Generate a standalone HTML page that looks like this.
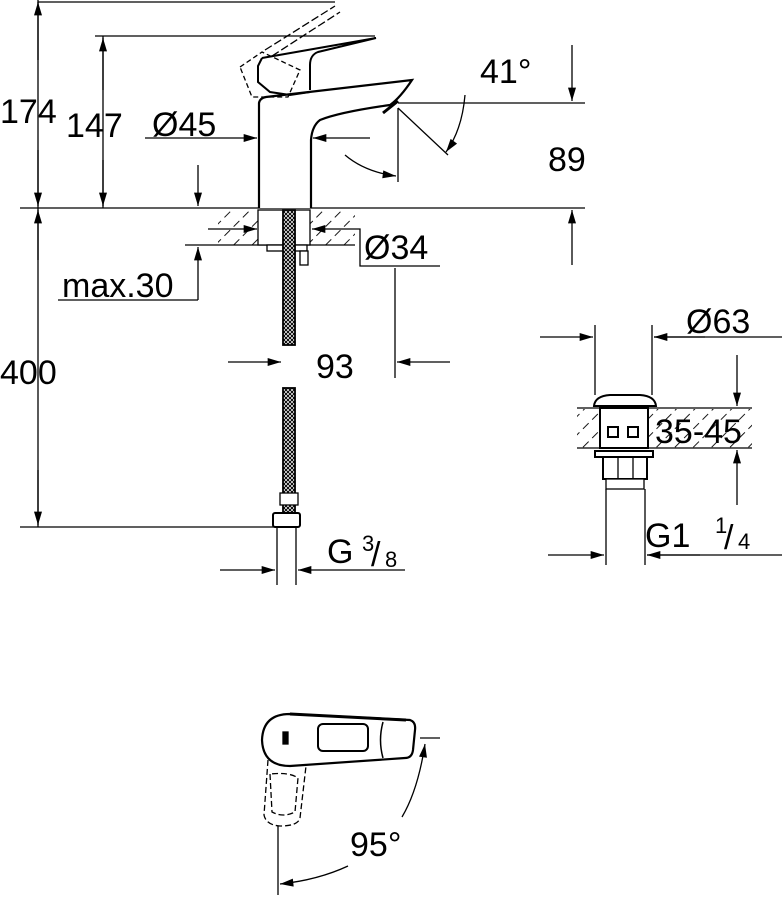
<!DOCTYPE html>
<html><head><meta charset="utf-8"><style>
html,body{margin:0;padding:0;background:#fff}
svg{display:block}
text{font-family:"Liberation Sans",Arial,sans-serif;fill:#000}
</style></head><body>
<svg width="784" height="904" viewBox="0 0 784 904" xmlns="http://www.w3.org/2000/svg">
<defs>
<marker id="a" viewBox="0 0 10 6" refX="10" refY="3" markerWidth="17" markerHeight="8" markerUnits="userSpaceOnUse" orient="auto"><path d="M0,0L10,3L0,6z" fill="#000"/></marker>
<pattern id="h" width="13" height="13" patternUnits="userSpaceOnUse" patternTransform="rotate(45)"><line x1="0" y1="0" x2="0" y2="13" stroke="#000" stroke-width="1.8" stroke-dasharray="8,5"/></pattern>
<pattern id="b" width="4" height="4" patternUnits="userSpaceOnUse"><rect width="4" height="4" fill="#fff"/><path d="M0,0L4,4M4,0L0,4" stroke="#000" stroke-width="1"/></pattern>
</defs>
<g stroke="#000" stroke-width="1.3" fill="none">
<line x1="38" y1="0" x2="38" y2="527"/>
<line x1="38" y1="60" x2="38" y2="2" marker-end="url(#a)"/>
<line x1="38" y1="150" x2="38" y2="206" marker-end="url(#a)"/>
<line x1="38" y1="260" x2="38" y2="210" marker-end="url(#a)"/>
<line x1="38" y1="470" x2="38" y2="525" marker-end="url(#a)"/>
<line x1="38" y1="2" x2="335" y2="2"/>
<line x1="103" y1="36" x2="103" y2="208"/>
<line x1="103" y1="90" x2="103" y2="38" marker-end="url(#a)"/>
<line x1="103" y1="160" x2="103" y2="206" marker-end="url(#a)"/>
<line x1="95" y1="36" x2="375" y2="36"/>
<line x1="20" y1="208" x2="585" y2="208"/>
<line x1="20" y1="527" x2="280" y2="527"/>
<rect x="218" y="210" width="137" height="35" fill="url(#h)" stroke="none"/>
<line x1="185" y1="245" x2="355" y2="245"/>
<rect x="258" y="210" width="52" height="35" fill="#fff"/>
<rect x="267" y="245" width="40" height="6" fill="#fff"/>
<rect x="300" y="251" width="8" height="14" fill="#fff"/>
<rect x="283" y="210" width="12" height="135" fill="url(#b)" stroke-width="1.8"/>
<rect x="283" y="388" width="12" height="125" fill="url(#b)" stroke-width="1.8"/>
<rect x="280" y="493" width="18" height="12" fill="#fff"/>
<rect x="273" y="513" width="27" height="14" rx="2" fill="#fff" stroke-width="2"/>
<line x1="277" y1="527" x2="277" y2="585"/>
<line x1="296" y1="527" x2="296" y2="585"/>
<line x1="220" y1="570" x2="275" y2="570" marker-end="url(#a)"/>
<line x1="405" y1="570" x2="298" y2="570" marker-end="url(#a)"/>
<path d="M259,208 L259,103 Q260,98 266,97 L412,80 Q400,98 390,105 Q340,112 320,120 Q312,126 311,140 L311,208" stroke-width="2.2" fill="#fff"/>
<path d="M262,58 L376,38 L318,52 Q310,55 310,65 L310,90" stroke-width="2"/>
<path d="M262,58 L258,66 L258,82 L270,92 L290,95 L310,92" stroke-width="2"/>
<path d="M240,67 L262,52 L300,70 L288,97 L252,97 Z" stroke-dasharray="5,3"/>
<path d="M265,50 L335,6 M272,56 L340,12" stroke-dasharray="8,3"/>
<path d="M383,113 L398,101" stroke-width="3"/>
<line x1="145" y1="138" x2="257" y2="138" marker-end="url(#a)"/>
<line x1="370" y1="138" x2="313" y2="138" marker-end="url(#a)"/>
<line x1="198" y1="165" x2="198" y2="206" marker-end="url(#a)"/>
<line x1="198" y1="300" x2="198" y2="247" marker-end="url(#a)"/>
<line x1="58" y1="300" x2="198" y2="300"/>
<line x1="208" y1="229" x2="257" y2="229" marker-end="url(#a)"/>
<line x1="335" y1="229" x2="312" y2="229" marker-end="url(#a)"/>
<polyline points="335,229 360,229 360,266 440,266"/>
<line x1="395" y1="268" x2="395" y2="378"/>
<line x1="228" y1="362" x2="281" y2="362" marker-end="url(#a)"/>
<line x1="450" y1="362" x2="397" y2="362" marker-end="url(#a)"/>
<line x1="398" y1="108" x2="398" y2="182"/>
<line x1="398" y1="108" x2="448" y2="155"/>
<line x1="398" y1="103" x2="585" y2="103"/>
<path d="M465,95 Q462,130 446,152" marker-end="url(#a)"/>
<path d="M345,155 Q365,172 396,176" marker-end="url(#a)"/>
<line x1="572" y1="45" x2="572" y2="101" marker-end="url(#a)"/>
<line x1="572" y1="265" x2="572" y2="210" marker-end="url(#a)"/>
<line x1="595" y1="325" x2="595" y2="395"/>
<line x1="652" y1="325" x2="652" y2="395"/>
<line x1="540" y1="337" x2="593" y2="337" marker-end="url(#a)"/>
<line x1="782" y1="337" x2="654" y2="337"/>
<line x1="705" y1="337" x2="654" y2="337" marker-end="url(#a)"/>
<rect x="577" y="409" width="175" height="39" fill="url(#h)" stroke="none"/>
<line x1="577" y1="408" x2="752" y2="408"/>
<line x1="577" y1="448" x2="752" y2="448"/>
<path d="M594,406 Q595,396 610,395 L640,395 Q655,396 656,406 Z" fill="#fff" stroke-width="2"/>
<rect x="600" y="408" width="48" height="40" fill="#fff" stroke-width="2"/>
<rect x="608" y="427" width="10" height="10" stroke-width="2"/><rect x="628" y="427" width="10" height="10" stroke-width="2"/>
<rect x="595" y="451" width="58" height="6" fill="#fff" stroke-width="2"/>
<rect x="603" y="457" width="44" height="22" fill="#fff" stroke-width="2"/>
<line x1="618" y1="457" x2="618" y2="479"/><line x1="633" y1="457" x2="633" y2="479"/>
<rect x="606" y="479" width="38" height="10" fill="#fff"/>
<line x1="606" y1="489" x2="606" y2="565"/>
<line x1="645" y1="489" x2="645" y2="565"/>
<line x1="737" y1="355" x2="737" y2="406" marker-end="url(#a)"/>
<line x1="737" y1="505" x2="737" y2="450" marker-end="url(#a)"/>
<line x1="548" y1="555" x2="604" y2="555" marker-end="url(#a)"/>
<line x1="782" y1="555" x2="647" y2="555"/>
<line x1="700" y1="555" x2="647" y2="555" marker-end="url(#a)"/>
<path d="M290,714 L410,720 Q416,722 415,730 L413,750 Q412,758 405,758 L290,766 Q263,766 262,740 Q263,714 290,714 Z" stroke-width="2.2" fill="#fff"/>
<path d="M290,714 L406,720" stroke-width="3"/>
<rect x="318" y="724" width="50" height="27" rx="5" stroke-width="2"/>
<path d="M383,722 Q378,740 383,758" stroke-width="1.5"/>
<rect x="283" y="732" width="5" height="12" fill="#000"/>
<path d="M268,760 L264,815 Q266,825 280,826 Q298,826 300,818 L306,766" stroke-dasharray="6,3"/>
<path d="M270,774 L272,812 Q283,818 295,812 L298,778 Q290,772 270,774Z" stroke-dasharray="6,3"/>
<line x1="420" y1="738" x2="440" y2="738"/>
<line x1="278" y1="826" x2="278" y2="895"/>
<path d="M402,817 Q418,790 425,744" marker-end="url(#a)"/>
<path d="M348,866 Q318,880 280,884" marker-end="url(#a)"/>
</g>
<g font-size="34">
<text x="0" y="123">174</text>
<text x="66" y="137">147</text>
<text x="152" y="136">Ø45</text>
<text x="480" y="83">41°</text>
<text x="548" y="171">89</text>
<text x="364" y="259">Ø34</text>
<text x="62" y="297">max.30</text>
<text x="0" y="384">400</text>
<text x="316" y="378">93</text>
<text x="686" y="333">Ø63</text>
<text x="655" y="443">35-45</text>
<text x="645" y="547">G1</text>
<text x="715" y="533" font-size="22">1</text>
<text x="724" y="549">/</text>
<text x="738" y="549" font-size="22">4</text>
<text x="327" y="563">G</text>
<text x="362" y="551" font-size="22">3</text>
<text x="371" y="566">/</text>
<text x="385" y="567" font-size="22">8</text>
<text x="350" y="856">95°</text>
</g>
</svg>
</body></html>
